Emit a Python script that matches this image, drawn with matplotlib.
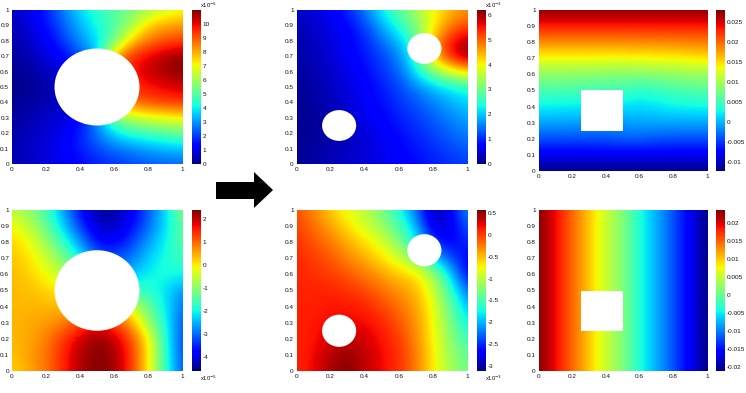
import matplotlib
matplotlib.use("Agg")
import matplotlib.pyplot as plt
from matplotlib.patches import Ellipse, Rectangle, Polygon

plt.rcParams['font.family'] = ['Liberation Sans', 'DejaVu Sans']
W, H = 746, 393

# Field samples on an 11x11 grid: rows y=1.0 ... 0.0, columns x=0.0 ... 1.0
a1 = [
 [.7,1.0,1.7,2.8,3.8,4.5,5.0,5.5,6.0,6.5,6.9],
 [.5,.9,1.5,2.4,3.4,4.2,4.9,6.0,7.5,8.0,8.2],
 [.4,.7,1.2,2.0,3.0,3.8,5.2,7.5,8.6,9.0,9.2],
 [.3,.5,.9,1.4,2.2,3.5,8.0,9.5,10.0,10.5,10.8],
 [.2,.3,.6,.9,1.5,3.5,9.0,9.8,10.3,10.7,11.0],
 [.1,.2,.4,.6,1.0,3.5,9.0,9.5,9.8,10.0,10.2],
 [.2,.3,.5,.7,1.0,3.0,8.0,8.8,9.2,9.4,9.5],
 [.3,.5,.7,.9,1.3,3.0,5.5,6.5,6.8,7.0,7.2],
 [.4,.6,.8,1.1,1.7,2.7,3.8,4.4,4.7,5.0,5.3],
 [.4,.7,.9,1.2,1.7,2.2,2.6,2.9,3.2,3.4,3.5],
 [.4,.7,.9,1.1,1.4,1.7,1.9,2.1,2.3,2.4,2.5],
]
b1 = [
 [.4,.5,.7,1.0,1.6,2.3,2.9,3.4,4.0,4.4,4.7],
 [.3,.4,.6,.8,1.2,1.9,2.5,3.2,4.0,4.8,5.1],
 [.2,.4,.5,.7,1.0,1.5,2.0,2.8,4.5,5.5,5.9],
 [.2,.3,.5,.7,.9,1.2,1.6,2.6,4.4,5.6,6.2],
 [.2,.3,.4,.6,.8,1.1,1.4,2.3,3.2,3.9,4.3],
 [.1,.2,.4,.5,.7,.95,1.2,1.6,2.0,2.3,2.5],
 [.1,.2,.3,.5,.7,.85,1.1,1.3,1.6,1.85,2.1],
 [.1,.15,.25,.4,.6,.75,.95,1.15,1.35,1.6,1.8],
 [.1,.15,.2,.3,.5,.65,.85,1.0,1.2,1.4,1.6],
 [.1,.2,.3,.4,.5,.6,.75,.9,1.05,1.2,1.35],
 [.1,.2,.3,.4,.5,.6,.7,.8,.95,1.05,1.15],
]
c1 = [
 [28,28,28,28,28,28,28,28,28,28,28],
 [23.5,23.5,23.5,23.5,23.5,23.5,23.5,23.5,23.5,23.5,23.5],
 [18.8,18.8,18.8,18.8,18.8,18.8,18.9,19,19,19.2,19.4],
 [13.8,13.8,13.8,13.8,13.8,13.8,13.9,14,14.2,14.6,15],
 [9,9,9,8.8,8.6,8.4,8.6,8.9,9.2,9.4,9.5],
 [5.5,5.5,5.4,5.2,5,5,3.8,4.5,5.3,5.8,6],
 [2.5,2.4,2.3,2.2,2,1.8,1.5,2,2.6,2.8,3],
 [-.5,-.6,-.7,-.9,-1,-1,-.5,-.5,-.5,-.5,-.5],
 [-4,-4,-4,-4,-3.8,-3.2,-3.3,-3.8,-4,-4,-4],
 [-8,-8,-8,-8,-8,-8,-8,-8,-8,-8,-8],
 [-12,-12,-12,-12,-12,-12,-12,-12,-12,-12,-12],
]
a2 = [
 [-.6,-.9,-1.6,-2.6,-3.7,-4.4,-4.4,-3.9,-3.1,-2.2,-1.0],
 [-.1,-.5,-1.3,-2.3,-3.3,-4.2,-4.2,-3.7,-3.0,-2.2,-1.3],
 [.2,-.1,-.8,-1.7,-2.7,-3.7,-3.8,-3.3,-2.6,-2.0,-1.4],
 [.3,.1,-.4,-1.1,-2.0,-3.0,-3.2,-2.9,-2.3,-1.9,-1.6],
 [.4,.2,-.1,-.6,-1.0,-2.0,-2.5,-2.4,-2.0,-1.9,-2.0],
 [.4,.35,.2,0,0,-1,-1.5,-1.7,-1.8,-2.2,-2.7],
 [.4,.4,.4,.4,.4,.4,0,-.3,-1.3,-2.1,-3.0],
 [.4,.5,.6,.8,1.2,1.7,1.3,.6,-.9,-2.0,-3.2],
 [.4,.5,.8,1.4,1.9,2.3,2.0,1.2,0,-1.9,-3.3],
 [.3,.6,.9,1.5,2.1,2.4,2.2,1.4,0,-1.8,-3.3],
 [.2,.5,.9,1.5,2.1,2.4,2.2,1.4,0,-1.8,-3.2],
]
b2 = [
 [-.1,-.3,-.6,-.8,-1.0,-1.3,-1.7,-2.3,-3.0,-2.7,-2.1],
 [0,-.2,-.4,-.65,-.9,-1.15,-1.5,-2.0,-2.9,-2.8,-2.3],
 [.05,-.1,-.25,-.45,-.65,-.85,-1.25,-1.8,-2.5,-2.7,-2.5],
 [.1,0,-.1,-.3,-.45,-.65,-.9,-1.3,-1.9,-2.4,-2.7],
 [.1,.05,0,-.1,-.25,-.4,-.55,-.65,-1.1,-1.9,-2.7],
 [.1,.1,.1,.05,-.05,-.2,-.35,-.5,-.9,-1.6,-2.3],
 [.1,.12,.15,.15,.1,-.05,-.2,-.4,-.8,-1.4,-2.0],
 [.12,.15,.2,.22,.2,.1,-.1,-.35,-.75,-1.3,-1.8],
 [.1,.15,.3,.35,.3,.15,0,-.3,-.75,-1.2,-1.6],
 [.1,.2,.4,.5,.35,.2,.05,-.25,-.7,-1.15,-1.4],
 [.1,.2,.45,.57,.35,.2,.05,-.25,-.7,-1.1,-1.35],
]
c2 = [[23.5,19,14.5,10,5,1.5,-4,-8,-12,-16.5,-21] for _row in range(11)]

ranges = {"a1": (0, 11), "b1": (0, 6.2), "c1": (-12.2, 28.1),
          "a2": (-4.6, 2.4), "b2": (-3.12, .57), "c2": (-21, 23.5)}
xticks = [0, .2, .4, .6, .8, 1]
yticks = [0, .1, .2, .3, .4, .5, .6, .7, .8, .9, 1]
xticklabels = ["0", "0.2", "0.4", "0.6", "0.8", "1"]
yticklabels = ["0", "0.1", "0.2", "0.3", "0.4", "0.5", "0.6", "0.7", "0.8", "0.9", "1"]

cb_a1 = [0, 1, 2, 3, 4, 5, 6, 7, 8, 9, 10]
cb_a1_l = ["0", "1", "2", "3", "4", "5", "6", "7", "8", "9", "10"]
cb_b1 = [0, 1, 2, 3, 4, 5, 6]
cb_b1_l = ["0", "1", "2", "3", "4", "5", "6"]
cb_c1 = [-10, -5, 0, 5, 10, 15, 20, 25]
cb_c1_l = ["-0.01", "-0.005", "0", "0.005", "0.01", "0.015", "0.02", "0.025"]
cb_a2 = [-4, -3, -2, -1, 0, 1, 2]
cb_a2_l = ["-4", "-3", "-2", "-1", "0", "1", "2"]
cb_b2 = [-3, -2.5, -2, -1.5, -1, -.5, 0, .5]
cb_b2_l = ["-3", "-2.5", "-2", "-1.5", "-1", "-0.5", "0", "0.5"]
cb_c2 = [-20, -15, -10, -5, 0, 5, 10, 15, 20]
cb_c2_l = ["-0.02", "-0.015", "-0.01", "-0.005", "0", "0.005", "0.01", "0.015", "0.02"]

circle_big = [(.5, .5, .25)]
circles_two = [(.25, .25, .1), (.75, .75, .1)]
square = [(.25, .25, .25)]

TXT = "#111111"
FS = 4.6
fig = plt.figure(figsize=(W / 100, H / 100), dpi=100)


def rect(x0, x1, y0, y1):
    return [x0 / W, 1 - y1 / H, (x1 - x0) / W, (y1 - y0) / H]


def panel(data, rng, box, cbox, cticks, clabels, circles=(), squares=(), note=None, note_xy=None):
    ax = fig.add_axes(rect(*box))
    im = ax.imshow(data, cmap="jet", vmin=rng[0], vmax=rng[1], origin="upper",
                   extent=(-.05, 1.05, -.05, 1.05), interpolation="bicubic", aspect="auto")
    ax.set_xlim(0, 1)
    ax.set_ylim(0, 1)
    ax.set_xticks(xticks, xticklabels)
    ax.set_yticks(yticks, yticklabels)
    ax.tick_params(length=0, pad=2.0, labelsize=FS, colors=TXT)
    for s in ax.spines.values():
        s.set_visible(False)
    for cx, cy, r in circles:
        ax.add_patch(Ellipse((cx, cy), 2 * r, 2 * r, fc="white", ec="none", zorder=3))
    for sx, sy, sz in squares:
        ax.add_patch(Rectangle((sx, sy), sz, sz, fc="white", ec="none", zorder=3))
    cax = fig.add_axes(rect(*cbox))
    cb = fig.colorbar(im, cax=cax)
    cb.outline.set_visible(False)
    cb.set_ticks(cticks, labels=clabels)
    cax.tick_params(length=0, pad=1.4, labelsize=FS, colors=TXT)
    if note:
        fig.text(note_xy[0] / W, 1 - note_xy[1] / H, note, fontsize=4.2, color=TXT,
                 ha="center", va="center")


panel(a1, ranges["a1"], (12, 182, 10, 164), (192, 201, 10, 164), cb_a1, cb_a1_l,
      circles=circle_big, note=r"x10$^{-5}$", note_xy=(209, 5))
panel(b1, ranges["b1"], (296.5, 467, 10, 164), (477, 486, 10, 164), cb_b1, cb_b1_l,
      circles=circles_two, note=r"x10$^{-3}$", note_xy=(494, 5))
panel(c1, ranges["c1"], (538.5, 707, 10, 171), (716, 725, 10, 171), cb_c1, cb_c1_l,
      squares=square)
panel(a2, ranges["a2"], (12, 182, 210, 371), (192, 201, 210, 371), cb_a2, cb_a2_l,
      circles=circle_big, note=r"x10$^{-5}$", note_xy=(209, 378))
panel(b2, ranges["b2"], (296.5, 467, 210, 371), (477, 486, 210, 371), cb_b2, cb_b2_l,
      circles=circles_two, note=r"x10$^{-3}$", note_xy=(494, 378))
panel(c2, ranges["c2"], (538.5, 707, 210, 371), (716, 725, 210, 371), cb_c2, cb_c2_l,
      squares=square)

arrow_px = [(216, 182), (254, 182), (254, 172), (273, 190), (254, 208), (254, 199), (216, 199)]
fig.add_artist(Polygon([(x / W, 1 - y / H) for x, y in arrow_px], closed=True, fc="black", ec="none",
                       transform=fig.transFigure))

fig.savefig("out.png", dpi=100)
